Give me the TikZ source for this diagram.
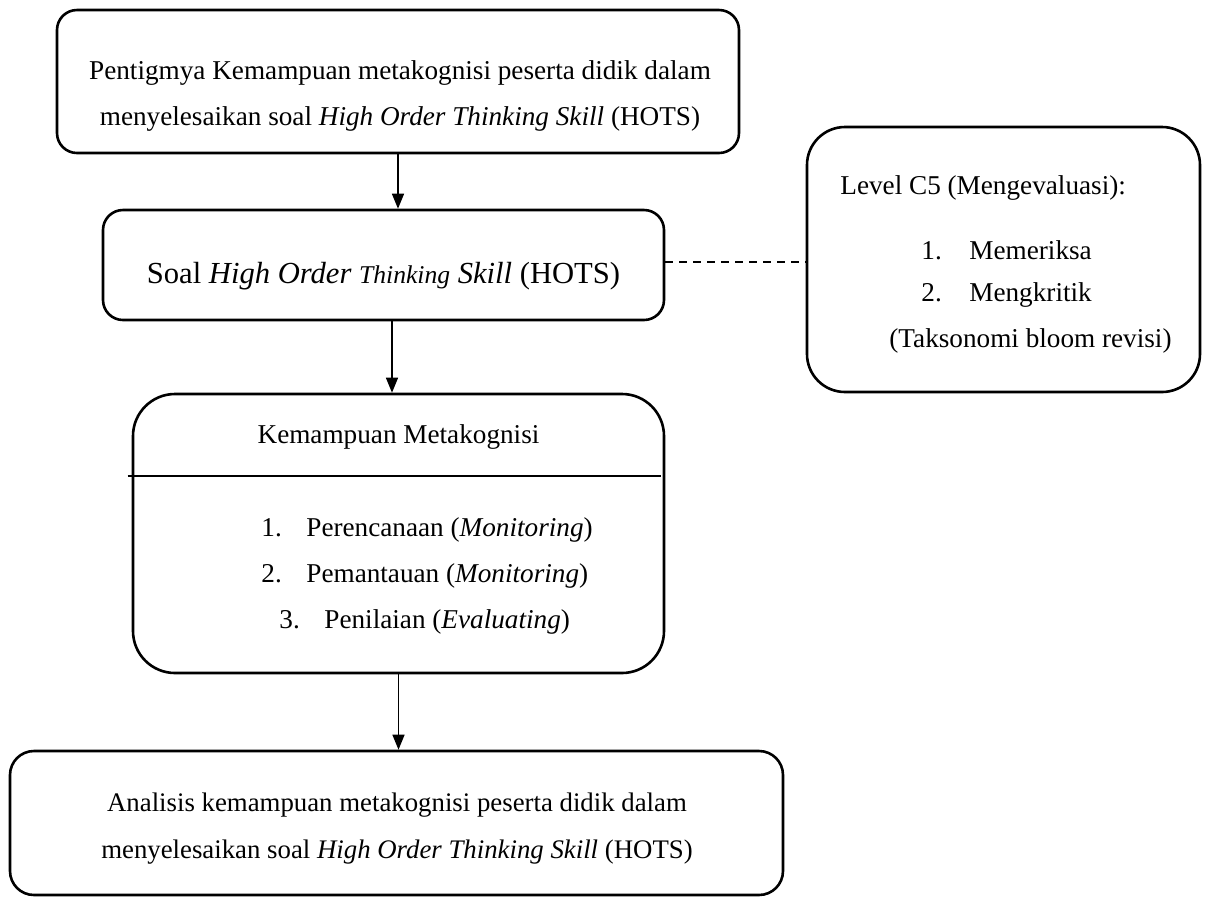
\documentclass[tikz,border=0pt]{standalone}
\usepackage{fontspec}
\setmainfont{Liberation Serif}
\usetikzlibrary{arrows.meta,positioning}

\begin{document}
\begin{tikzpicture}[x=0.5pt, y=-0.5pt, font=\fontsize{13.6}{23}\selectfont,
    box/.style={draw, line width=1.3pt, rounded corners=10pt, inner sep=0pt},
    bigbox/.style={box, rounded corners=21pt},
    txt/.style={anchor=west, inner sep=0pt},
    link/.style={line width=0.7pt, -{Triangle[length=7.5pt,width=6pt]}},
    dashlink/.style={line width=0.7pt, dash pattern=on 4pt off 3pt}]
  \useasboundingbox (0,0) rectangle (1206,896);
  % boxes
  \node[box, minimum width=341pt, minimum height=71.5pt] (top) at (398,81.5) {};
  \node[box, minimum width=280.5pt, minimum height=55pt] (soal) at (383.5,265) {};
  \node[bigbox, rounded corners=19pt, minimum width=196.5pt, minimum height=132.5pt] (level) at (1003.5,259.5) {};
  \node[bigbox, minimum width=265.5pt, minimum height=139.5pt] (kem) at (398.5,533.5) {};
  \node[box, rounded corners=12pt, minimum width=386.5pt, minimum height=72pt] (final) at (396.5,823) {};
  % texts
  \node[align=center] (toptxt) at (400,96)
    {Pentigmya Kemampuan metakognisi peserta didik dalam\\
     menyelesaikan soal \textit{High Order Thinking Skill} (HOTS)};
  \node[font=\fontsize{15.3}{18}\selectfont] (soaltxt) at (383.5,276)
    {Soal \textit{High Order {\fontsize{12.8}{15}\selectfont Thinking} Skill} (HOTS)};
  \node[txt] (lvtitle) at (840,188) {Level C5 (Mengevaluasi):};
  \node[txt] (lv1) at (921,250) {\makebox[24pt][l]{1.}Memeriksa};
  \node[txt] (lv2) at (921,295) {\makebox[24pt][l]{2.}Mengkritik};
  \node[txt] (lvsrc) at (889,341) {(Taksonomi bloom revisi)};
  \node (kemtitle) at (398.5,437) {Kemampuan Metakognisi};
  \draw[line width=0.7pt] ([xshift=-2pt]kem.west |- 0,476) -- ([xshift=-2pt]kem.east |- 0,476);
  \node[txt] (k1) at (261,530) {\makebox[22.5pt][l]{1.}Perencanaan (\textit{Monitoring})};
  \node[txt] (k2) at (261,576) {\makebox[22.5pt][l]{2.}Pemantauan (\textit{Monitoring})};
  \node[txt] (k3) at (279,622) {\makebox[22.5pt][l]{3.}Penilaian (\textit{Evaluating})};
  \node[align=center, font=\fontsize{13.4}{23.5}\selectfont] (finaltxt) at (397,829)
    {Analisis kemampuan metakognisi peserta didik dalam\\
     menyelesaikan soal \textit{High Order Thinking Skill} (HOTS)};
  % connectors
  \draw[link] (top.south) -- (top.south |- soal.north);
  \draw[link] ([xshift=4.25pt]soal.south) -- ([xshift=4.25pt]soal.south |- kem.north);
  \draw[link] (kem.south) -- (kem.south |- final.north);
  \draw[dashlink] ([yshift=1.5pt]soal.east) -- ([yshift=1.5pt]level.west |- soal.east);
\end{tikzpicture}
\end{document}
